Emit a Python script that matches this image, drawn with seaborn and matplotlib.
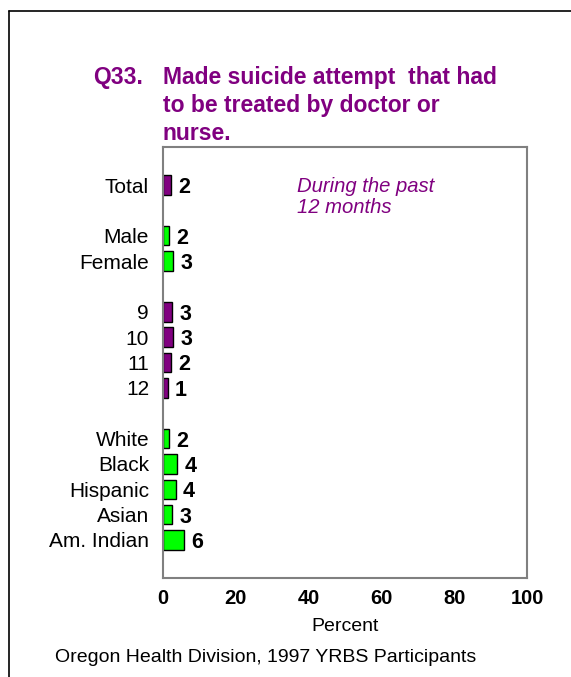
import matplotlib
matplotlib.use("Agg")
import matplotlib.pyplot as plt
from matplotlib.lines import Line2D
import seaborn as sns
import pandas as pd

# ---- data ----
categories = ["Total", "Male", "Female", "9", "10", "11", "12",
              "White", "Black", "Hispanic", "Asian", "Am. Indian"]
values = [2.3, 1.6, 2.7, 2.6, 2.7, 2.2, 1.3, 1.7, 3.9, 3.5, 2.6, 5.8]
value_labels = ["2", "2", "3", "3", "3", "2", "1", "2", "4", "4", "3", "6"]
groups = ["total", "sex", "sex", "grade", "grade", "grade", "grade",
          "race", "race", "race", "race", "race"]
row_order = ["Total", " ", "Male", "Female", "  ", "9", "10", "11", "12", "   ",
             "White", "Black", "Hispanic", "Asian", "Am. Indian"]
x_ticks = [0, 20, 40, 60, 80, 100]

PURPLE = "#800080"
GREEN = "#00FF00"
palette = {"total": PURPLE, "grade": PURPLE, "sex": GREEN, "race": GREEN}

df = pd.DataFrame({"category": categories, "value": values, "group": groups})

sns.set_theme(style="white")
plt.rcParams["font.family"] = ["Liberation Sans", "DejaVu Sans"]
plt.rcParams["text.color"] = "black"
plt.rcParams["xtick.color"] = "black"
plt.rcParams["ytick.color"] = "black"
plt.rcParams["axes.labelcolor"] = "black"

W, H = 571, 677
fig = plt.figure(figsize=(W / 100, H / 100), dpi=100)
ax = fig.add_axes([163 / W, 1 - 578 / H, (527 - 163) / W, (578 - 147) / H])

sns.barplot(data=df, y="category", x="value", hue="group", palette=palette,
            order=row_order, orient="h", dodge=False, width=0.77, saturation=1,
            edgecolor="black", linewidth=1, legend=False, ax=ax)

# value labels
for cat, v, lab in zip(categories, values, value_labels):
    ax.text(v + 2.0, row_order.index(cat), lab, ha="left", va="center_baseline",
            fontsize=15.5, fontweight="bold", color="black")

ax.set_xlim(0, 100)
ax.set_ylim(len(row_order) - 0.5 + 1.0, -1.5)
ax.set_xticks(x_ticks)
ax.set_xticklabels([str(t) for t in x_ticks], fontsize=14.5, fontweight="bold")
ax.tick_params(axis="x", length=0, pad=8)
ax.tick_params(axis="y", length=0, pad=10, labelsize=15)
ax.set_ylabel("")
ax.set_xlabel("Percent", fontsize=14, labelpad=7)
for s in ax.spines.values():
    s.set_visible(True)
    s.set_color("#808080")
    s.set_linewidth(1.5)

fig.text(297 / W, 1 - 177 / H, "During the past\n12 months", fontsize=14.6,
         style="italic", color=PURPLE, ha="left", va="top", linespacing=1.15)

# title
fig.text(93 / W, 1 - 66 / H, "Q33.", fontsize=16.5, fontweight="bold",
         color=PURPLE, ha="left", va="top")
fig.text(163 / W, 1 - 66 / H, "Made suicide attempt  that had\nto be treated by doctor or\nnurse.",
         fontsize=16.5, fontweight="bold", color=PURPLE, ha="left", va="top",
         linespacing=1.27)

# footer
fig.text(55 / W, 1 - 658 / H, "Oregon Health Division, 1997 YRBS Participants",
         fontsize=14, ha="left", va="center", color="black")

# outer frame (top and left edges)
fig.add_artist(Line2D([9 / W, 1], [1 - 11 / H, 1 - 11 / H], color="black", lw=1.2,
                      transform=fig.transFigure))
fig.add_artist(Line2D([9 / W, 9 / W], [0, 1 - 11 / H], color="black", lw=1.2,
                      transform=fig.transFigure))

fig.savefig("out.png", dpi=100)
